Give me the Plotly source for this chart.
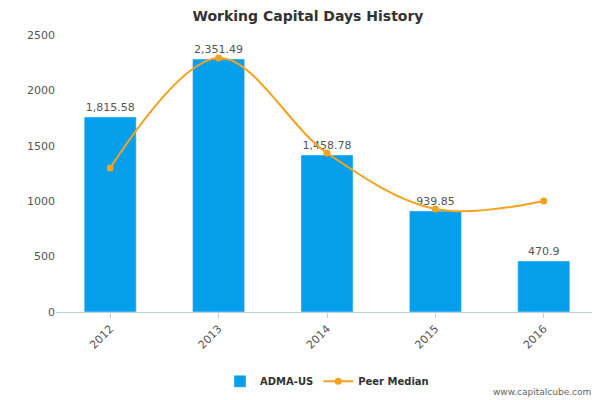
import plotly.graph_objects as go

years = ["2012", "2013", "2014", "2015", "2016"]
adma = [1760, 2283, 1417, 912, 460]
adma_labels = ["1,815.58", "2,351.49", "1,458.78", "939.85", "470.9"]
peer = [1300, 2292, 1435, 930, 1002]

fig = go.Figure()
fig.add_bar(x=years, y=adma, name="<b>ADMA-US</b>", marker_color="#069FEC", width=0.48,
            text=adma_labels, textposition="outside", textfont=dict(size=11, color="#555"),
            cliponaxis=False)
fig.add_scatter(x=years, y=peer, name="<b>Peer Median</b>", mode="lines+markers",
                line=dict(color="#F6A21E", width=2, shape="spline"),
                marker=dict(size=7, color="#F6A21E"))
fig.update_layout(
    width=600, height=400, plot_bgcolor="white", paper_bgcolor="white",
    margin=dict(l=48, r=10, t=27, b=96, autoexpand=False),
    title=dict(text="<b>Working Capital Days History</b>", x=0.5, y=0.98, yanchor="middle",
               font=dict(family="DejaVu Sans", size=14, color="#333")),
    font=dict(family="DejaVu Sans", size=11, color="#555"),
    showlegend=True,
    legend=dict(orientation="h", x=0.5, xanchor="center", y=-0.25, yanchor="middle",
                font=dict(size=10, color="#333")),
    bargap=0.5,
)
fig.update_xaxes(tickangle=-45, showline=True, linecolor="#C0D0E0", ticks="outside",
                 tickcolor="#C0D0E0", showgrid=False, automargin=False)
fig.update_yaxes(range=[0, 2500], dtick=500, showgrid=False, zeroline=False,
                 tickformat="d", automargin=False)
fig.add_annotation(text="www.capitalcube.com", xref="paper", yref="paper", x=0.99, y=-0.29,
                   xanchor="right", yanchor="middle", showarrow=False,
                   font=dict(size=9, color="#666"))
fig.write_html("out.html")
